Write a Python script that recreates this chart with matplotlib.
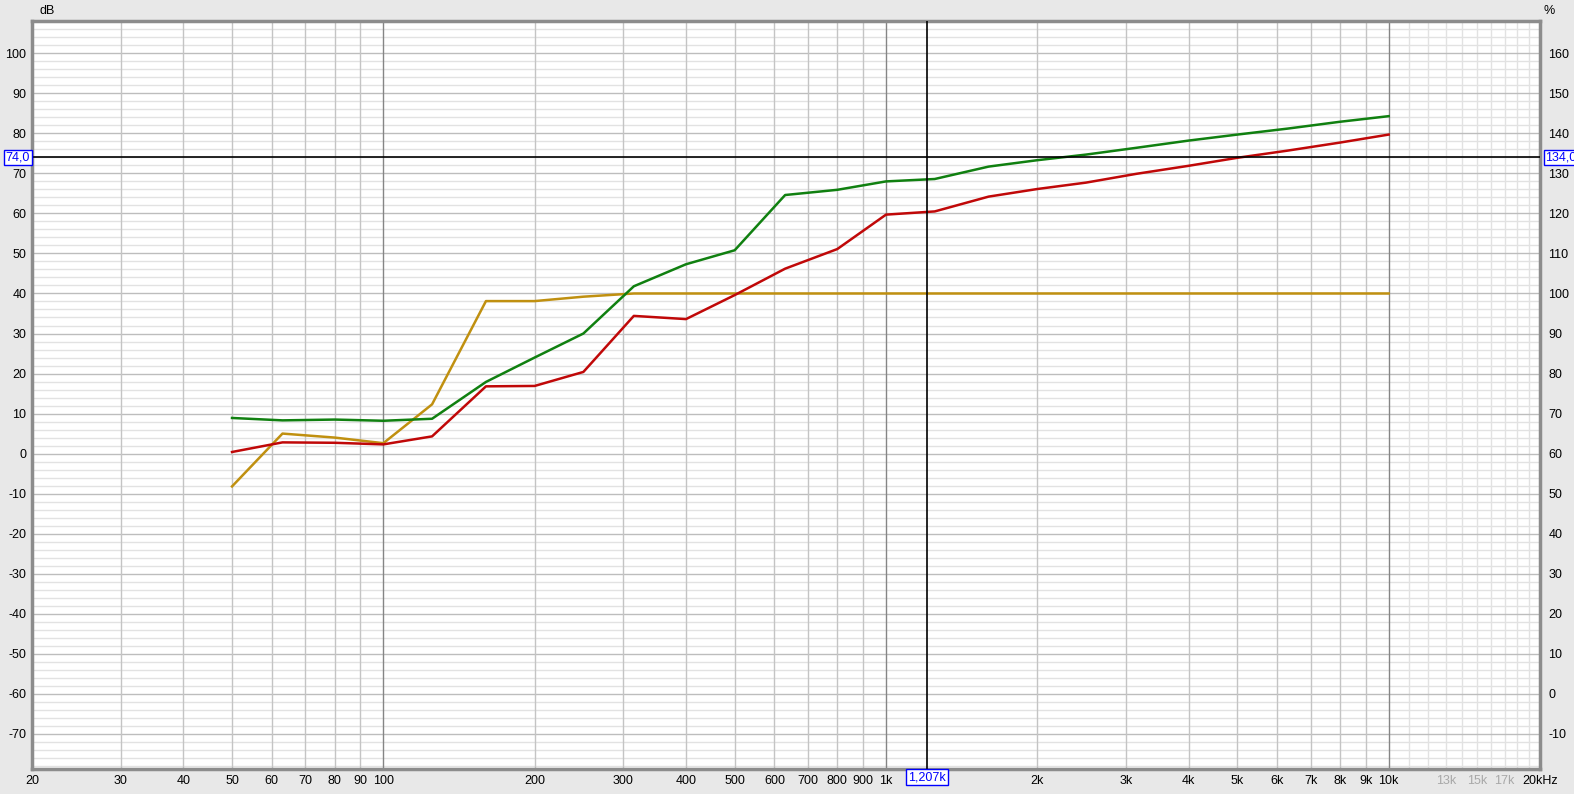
import matplotlib
matplotlib.use('Agg')
import matplotlib.pyplot as plt
import matplotlib.transforms as mtransforms

plt.rcParams['font.family'] = ['Liberation Sans', 'DejaVu Sans']
plt.rcParams['axes.unicode_minus'] = False

# frequency points (1/3 octave)
freqs = [50, 63, 80, 100, 125, 160, 200, 250, 315, 400, 500, 630, 800,
         1000, 1250, 1600, 2000, 2500, 3150, 4000, 5000, 6300, 8000, 10000]

green_db = [8.9, 8.3, 8.5, 8.2, 8.7, 17.9, 24.0, 30.0, 41.8, 47.3, 50.8, 64.6,
            65.9, 68.0, 68.6, 71.7, 73.3, 74.7, 76.4, 78.2, 79.7, 81.2, 82.9, 84.3]
red_db = [0.4, 2.8, 2.7, 2.3, 4.3, 16.8, 16.9, 20.4, 34.4, 33.6, 39.6, 46.2,
          51.1, 59.7, 60.5, 64.2, 66.1, 67.7, 69.9, 71.9, 73.9, 75.7, 77.7, 79.7]
gold_db = [-8.2, 5.0, 4.0, 2.6, 12.3, 38.1, 38.1, 39.2, 40.0, 40.0, 40.0, 40.0,
           40.0, 40.0, 40.0, 40.0, 40.0, 40.0, 40.0, 40.0, 40.0, 40.0, 40.0, 40.0]

x_ticks = [20, 30, 40, 50, 60, 70, 80, 90, 100, 200, 300, 400, 500, 600, 700,
           800, 900, 1000, 2000, 3000, 4000, 5000, 6000, 7000, 8000, 9000,
           10000, 13000, 15000, 17000, 20000]
x_labels = ['20', '30', '40', '50', '60', '70', '80', '90', '100', '200', '300',
            '400', '500', '600', '700', '800', '900', '1k', '2k', '3k', '4k',
            '5k', '6k', '7k', '8k', '9k', '10k', '13k', '15k', '17k', '20kHz']
db_ticks = list(range(-70, 101, 10))
pct_offset = 60

cursor_db = 74.0
cursor_freq = 1207

fig = plt.figure(figsize=(15.74, 7.94), dpi=100, facecolor='#e8e8e8')
ax = fig.add_axes([32 / 1574, 1 - 769 / 794, 1508 / 1574, 747.7 / 794])
ax.set_facecolor('white')
ax.set_xscale('log')
ax.set_xlim(20, 20000)
ax.set_ylim(-78.8, 108)

# grid
for v in range(-78, 108, 2):
    if v % 10 == 0:
        ax.axhline(v, color='#bdbdbd', lw=1, zorder=1)
    else:
        ax.axhline(v, color='#e2e2e2', lw=1, zorder=0.5)
for dec in [10, 100, 1000]:
    for m in range(2, 10):
        f = dec * m
        if f >= 20:
            ax.axvline(f, color='#c4c4c4', lw=1, zorder=1)
for f in [100, 1000, 10000]:
    ax.axvline(f, color='#858585', lw=1, zorder=1.2)
for f in range(11000, 20000, 1000):
    ax.axvline(f, color='#e2e2e2', lw=1, zorder=0.8)

ax.plot(freqs, gold_db, color='#c09010', lw=1.8, zorder=3)
ax.plot(freqs, green_db, color='#108010', lw=1.8, zorder=3)
ax.plot(freqs, red_db, color='#c00808', lw=1.8, zorder=3)

# cursors
ax.axhline(cursor_db, color='black', lw=1.2, zorder=4)
ax.axvline(cursor_freq, color='black', lw=1.2, zorder=4)

ax.set_xticks(x_ticks)
ax.set_xticklabels(x_labels)
ax.set_xticks([], minor=True)
ax.tick_params(axis='x', length=0, pad=4, labelsize=9)
for lbl in ax.get_xticklabels():
    if lbl.get_text() in ('13k', '15k', '17k'):
        lbl.set_color('#a8a8a8')
ax.set_yticks(db_ticks)
ax.tick_params(axis='y', length=0, pad=4, labelsize=9)

for s in ax.spines.values():
    s.set_color('#8c8c8c')
    s.set_linewidth(2.5)

ax2 = ax.twinx()
ax2.set_ylim(-78.8 + pct_offset, 108 + pct_offset)
ax2.set_yticks([v + pct_offset for v in db_ticks])
ax2.tick_params(axis='y', length=0, pad=6, labelsize=9)
for s in ax2.spines.values():
    s.set_visible(False)

fig.text(47 / 1574, 1 - 11 / 794, 'dB', ha='center', va='center', fontsize=9)
fig.text(1549 / 1574, 1 - 11 / 794, '%', ha='center', va='center', fontsize=9)

# cursor readouts
box = dict(boxstyle='square,pad=0.15', facecolor='white', edgecolor='#0000ff', lw=1)
ty = mtransforms.blended_transform_factory(fig.transFigure, ax.transData)
ax.text(18 / 1574, cursor_db, ('%.1f' % cursor_db).replace('.', ','),
        transform=ty, color='#0000ff', fontsize=9, ha='center', va='center',
        bbox=box, clip_on=False, zorder=5)
ax.text(1561 / 1574, cursor_db, ('%.1f' % (cursor_db + pct_offset)).replace('.', ','),
        transform=ty, color='#0000ff', fontsize=9, ha='center', va='center',
        bbox=box, clip_on=False, zorder=5)
tx = mtransforms.blended_transform_factory(ax.transData, fig.transFigure)
ax.text(cursor_freq, 1 - 777 / 794, ('%.3fk' % (cursor_freq / 1000)).replace('.', ','),
        transform=tx, color='#0000ff', fontsize=9, ha='center', va='center',
        bbox=box, clip_on=False, zorder=5)

fig.savefig('out.png', dpi=100, facecolor=fig.get_facecolor())
